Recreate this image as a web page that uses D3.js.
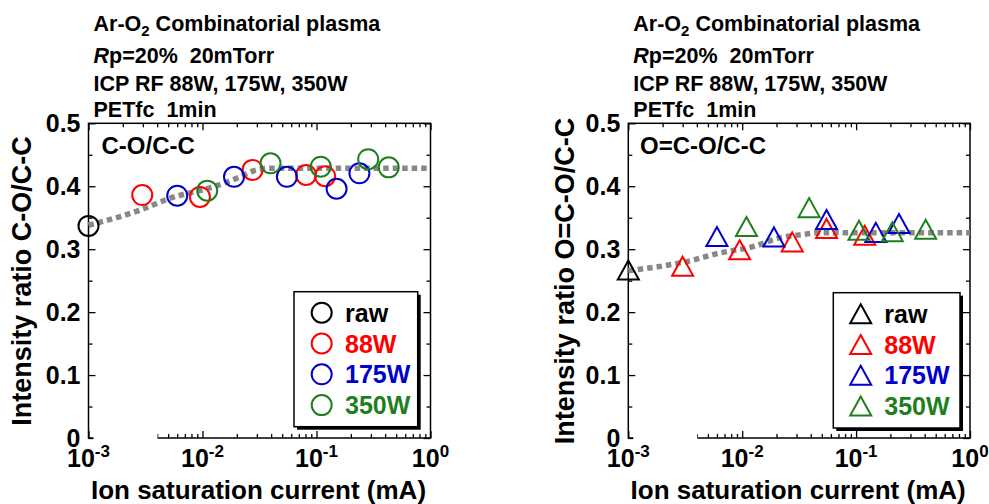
<!DOCTYPE html>
<html>
<head>
<meta charset="utf-8">
<script src="https://cdn.jsdelivr.net/npm/d3@7"></script>
<style>
  body { margin: 0; background: #fff; }
  text { font-family: "Liberation Sans", Arial, sans-serif; font-weight: bold; white-space: pre; }
</style>
</head>
<body>
<svg width="989" height="504"></svg>
<script>
// ---- data ----
const xTickValues = [1e-3, 1e-2, 1e-1, 1];
const xTickExps = ["-3", "-2", "-1", "0"];
const yTickValues = [0, 0.1, 0.2, 0.3, 0.4, 0.5];
const seriesNames = ["raw", "88W", "175W", "350W"];
const seriesColors = ["#000000", "#ff0000", "#0000cc", "#1f7f1f"];
const titleLines = ["Ar-O|2| Combinatorial plasma", "Rp=20%  20mTorr", "ICP RF 88W, 175W, 350W", "PETfc  1min"];

// C-O/C-C  (x = ion saturation current mA, y = ratio)
const coRaw = [[0.001, 0.337]];
const co88 = [[0.00296, 0.386], [0.0095, 0.383], [0.0275, 0.426], [0.081, 0.418], [0.119, 0.416]];
const co175 = [[0.006, 0.385], [0.0189, 0.415], [0.055, 0.415], [0.150, 0.396], [0.238, 0.4206]];
const co350 = [[0.011, 0.393], [0.0395, 0.4365], [0.109, 0.431], [0.284, 0.443], [0.43, 0.430]];
const coFit = [[0.001, 0.338], [0.00283, 0.362], [0.0052, 0.381], [0.01245, 0.399], [0.02, 0.4127], [0.0299, 0.426], [0.039, 0.4286], [1, 0.4286]];

// O=C-O/C-C
const ocoRaw = [[0.001, 0.267]];
const oco88 = [[0.0030, 0.273], [0.0095, 0.299], [0.0275, 0.3116], [0.055, 0.333], [0.119, 0.322]];
const oco175 = [[0.006, 0.32], [0.019, 0.3195], [0.055, 0.347], [0.149, 0.3267], [0.238, 0.3407]];
const oco350 = [[0.0109, 0.336], [0.0387, 0.366], [0.106, 0.330], [0.208, 0.3275], [0.408, 0.3315]];
const ocoFit = [[0.001, 0.266], [0.00325, 0.2803], [0.0064, 0.294], [0.0124, 0.304], [0.0214, 0.318], [0.0367, 0.324], [0.045, 0.326], [1, 0.326]];

const svg = d3.select("svg");
svg.append("rect").attr("width", 989).attr("height", 504).attr("fill", "#fff");

function marker(sel, type, x, y, size) {
  if (type === "circle") {
    sel.append("circle").attr("cx", x).attr("cy", y).attr("r", size);
  } else {
    var h = size * 1.9, w = size * 2.1;
    sel.append("path").attr("d", "M" + x + "," + (y - h / 2) + "L" + (x + w / 2) + "," + (y + h / 2) + "L" + (x - w / 2) + "," + (y + h / 2) + "Z");
  }
}

function drawPanel(p) {
  var g = svg.append("g");
  var xs = d3.scaleLog().domain([1e-3, 1]).range([p.left, p.right]);
  var ys = d3.scaleLinear().domain([0, 0.5]).range([438, 123.3]);

  // title block
  titleLines.forEach(function(line, i) {
    var t = g.append("text").attr("x", p.left + 5).attr("y", [30.5, 63, 90.5, 116.5][i])
      .attr("xml:space", "preserve").style("font-size", "21.5px");
    if (i === 0) {
      var parts = line.split("|");
      t.append("tspan").text(parts[0]);
      t.append("tspan").attr("dy", 5).style("font-size", "15px").text(parts[1]);
      t.append("tspan").attr("dy", -5).text(parts[2]);
    } else if (i === 1) {
      t.append("tspan").style("font-style", "italic").text("R");
      t.append("tspan").text(line.slice(1));
    } else {
      t.text(line);
    }
  });

  // minor / major ticks (inward, mirrored)
  var minor = [];
  [1e-3, 1e-2, 1e-1].forEach(function(d) { for (var k = 2; k <= 9; k++) minor.push(d * k); });
  var yMinor = [0.05, 0.15, 0.25, 0.35, 0.45];
  function tickAxis(axis, vals, size, tr) {
    var a = g.append("g").attr("transform", tr).call(axis.tickValues(vals).tickSize(size).tickSizeOuter(0).tickFormat(""));
    a.select(".domain").remove();
    a.selectAll("line").attr("stroke", "#000").attr("stroke-width", 1.3);
  }
  tickAxis(d3.axisBottom(xs), minor, -4, "translate(0,438)");
  tickAxis(d3.axisBottom(xs), xTickValues, -7, "translate(0,438)");
  tickAxis(d3.axisTop(xs), minor, -4, "translate(0,123.3)");
  tickAxis(d3.axisTop(xs), xTickValues, -7, "translate(0,123.3)");
  tickAxis(d3.axisLeft(ys), yMinor, -4, "translate(" + p.left + ",0)");
  tickAxis(d3.axisLeft(ys), yTickValues, -7, "translate(" + p.left + ",0)");
  tickAxis(d3.axisRight(ys), yMinor, -4, "translate(" + p.right + ",0)");
  tickAxis(d3.axisRight(ys), yTickValues, -7, "translate(" + p.right + ",0)");

  // frame
  g.append("rect").attr("x", p.left).attr("y", ys(0.5)).attr("width", p.right - p.left).attr("height", ys(0) - ys(0.5))
    .attr("fill", "none").attr("stroke", "#000").attr("stroke-width", 1.5);
  // white patch on bottom axis near 10^-3 (as in the original)
  g.append("rect").attr("x", xs(1e-3) + 5).attr("y", 432).attr("width", 64).attr("height", 10).attr("fill", "#fff");

  // y tick labels
  var yl = g.append("g").attr("transform", "translate(" + (p.left - 8) + ",0)")
    .call(d3.axisLeft(ys).tickValues(yTickValues).tickSize(0).tickPadding(0)
      .tickFormat(function(d) { return d === 0 ? "0" : d.toFixed(1); }));
  yl.select(".domain").remove();
  yl.selectAll("text").style("font-size", "25px").attr("fill", "#000")
    .style("font-family", "'Liberation Sans', Arial, sans-serif").style("font-weight", "bold");

  // x tick labels
  xTickValues.forEach(function(v, i) {
    var t = g.append("text").attr("x", xs(v)).attr("y", 467).attr("text-anchor", "middle").style("font-size", "25px");
    t.append("tspan").text("10");
    t.append("tspan").attr("dy", -10).style("font-size", "17px").text(xTickExps[i]);
  });

  // axis titles
  g.append("text").attr("x", (p.left + p.right) / 2 - 1).attr("y", 499).attr("text-anchor", "middle")
    .style("font-size", "26px").text("Ion saturation current (mA)");
  g.append("text").attr("transform", "translate(" + p.yLabelX + "," + 281 + ") rotate(-90)")
    .attr("text-anchor", "middle").attr("dominant-baseline", "central").style("font-size", "27px").text(p.yLabel);

  // panel label
  g.append("text").attr("x", p.labelX).attr("y", 153.5).style("font-size", "24px").text(p.label);

  // fit line
  var line = d3.line().x(function(d) { return xs(d[0]); }).y(function(d) { return ys(d[1]); }).curve(d3.curveMonotoneX);
  g.append("path").datum(p.fit).attr("d", line).attr("fill", "none")
    .attr("stroke", "#888").attr("stroke-width", 5.5).attr("stroke-dasharray", "5.5,4");

  // markers
  p.series.forEach(function(s, i) {
    var mg = g.append("g").attr("fill", "none").attr("stroke", seriesColors[i]).attr("stroke-width", 2);
    s.forEach(function(d) { marker(mg, p.marker, xs(d[0]), ys(d[1]), 10); });
  });

  // legend
  var L = p.legend;
  g.append("rect").attr("x", L.x + 3).attr("y", L.y + 3).attr("width", L.w).attr("height", L.h).attr("fill", "#000");
  g.append("rect").attr("x", L.x).attr("y", L.y).attr("width", L.w).attr("height", L.h)
    .attr("fill", "#fff").attr("stroke", "#000").attr("stroke-width", 1.5);
  seriesNames.forEach(function(name, i) {
    var cy = L.y + 21 + i * 30.8;
    var mg = g.append("g").attr("fill", "none").attr("stroke", seriesColors[i]).attr("stroke-width", 2);
    marker(mg, p.marker, L.mx, cy, 10);
    g.append("text").attr("x", L.tx).attr("y", cy).attr("dominant-baseline", "central")
      .attr("fill", seriesColors[i]).style("font-size", "25px").text(name);
  });
}

drawPanel({
  left: 88.5, right: 430.5, marker: "circle",
  series: [coRaw, co88, co175, co350], fit: coFit,
  label: "C-O/C-C", labelX: 101.5,
  yLabel: "Intensity ratio C-O/C-C", yLabelX: 22,
  legend: { x: 294, y: 291.7, w: 123.7, h: 135, mx: 321.7, tx: 345 }
});
drawPanel({
  left: 628.3, right: 970, marker: "triangle",
  series: [ocoRaw, oco88, oco175, oco350], fit: ocoFit,
  label: "O=C-O/C-C", labelX: 640,
  yLabel: "Intensity ratio O=C-O/C-C", yLabelX: 565,
  legend: { x: 833.3, y: 292.7, w: 126.7, h: 135.3, mx: 860.7, tx: 884.3 }
});
</script>
</body>
</html>
